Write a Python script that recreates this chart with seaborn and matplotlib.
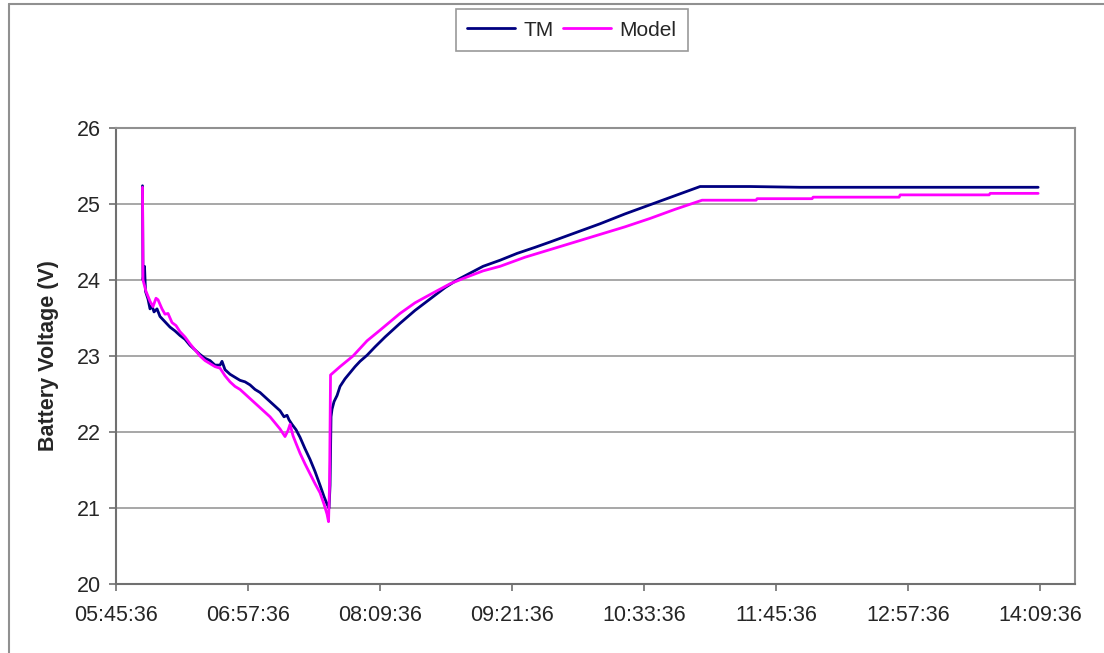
import matplotlib
matplotlib.use("Agg")
import matplotlib.pyplot as plt
from matplotlib.lines import Line2D
import pandas as pd
import seaborn as sns

# ---------------- data ----------------
tm_time = ["06:00:03", "06:00:20", "06:01:09", "06:01:42", "06:03:03", "06:04:09", "06:05:14",
           "06:06:20", "06:07:58", "06:09:36", "06:12:20", "06:15:03", "06:17:47", "06:20:30",
           "06:23:14", "06:25:58", "06:28:41", "06:31:25", "06:34:09", "06:36:52", "06:39:36",
           "06:42:20", "06:43:25", "06:45:03", "06:47:47", "06:50:30", "06:53:14", "06:55:58",
           "06:58:41", "07:01:25", "07:04:09", "07:06:52", "07:09:36", "07:12:20", "07:15:03",
           "07:17:14", "07:18:52", "07:19:58", "07:21:36", "07:23:47", "07:25:58", "07:28:41",
           "07:31:25", "07:34:09", "07:36:52", "07:39:03", "07:40:41", "07:41:47", "07:42:20",
           "07:42:52", "07:43:25", "07:44:31", "07:46:09", "07:47:47", "07:50:30", "07:53:14",
           "07:55:58", "07:58:41", "08:02:31", "08:06:52", "08:12:20", "08:20:30", "08:28:41",
           "08:38:31", "08:45:03", "08:51:36", "08:58:41", "09:05:47", "09:15:03", "09:24:20",
           "09:34:09", "09:42:20", "09:55:58", "10:09:36", "10:23:14", "10:36:52", "10:50:30",
           "11:04:09", "11:31:25", "11:58:41", "12:26:22", "12:53:14", "13:20:30", "13:47:47",
           "14:08:30"]
tm_volt = [25.24, 24.00, 24.18, 23.85, 23.75, 23.62, 23.66,
           23.58, 23.62, 23.52, 23.45, 23.38, 23.33, 23.27,
           23.22, 23.14, 23.08, 23.02, 22.97, 22.94, 22.88,
           22.88, 22.93, 22.82, 22.76, 22.72, 22.68, 22.66,
           22.62, 22.56, 22.52, 22.46, 22.40, 22.34, 22.28,
           22.20, 22.22, 22.16, 22.10, 22.03, 21.93, 21.78,
           21.64, 21.48, 21.30, 21.15, 21.05, 21.00, 21.30,
           22.20, 22.30, 22.40, 22.48, 22.60, 22.70, 22.78,
           22.86, 22.93, 23.01, 23.12, 23.25, 23.43, 23.60,
           23.78, 23.90, 24.00, 24.09, 24.18, 24.26, 24.35,
           24.43, 24.50, 24.62, 24.74, 24.87, 24.99, 25.11,
           25.23, 25.23, 25.22, 25.22, 25.22, 25.22, 25.22,
           25.22]

model_time = ["06:00:03", "06:00:20", "06:01:58", "06:04:09", "06:05:47", "06:07:25", "06:08:31",
              "06:10:41", "06:12:20", "06:13:58", "06:16:09", "06:18:20", "06:20:30", "06:23:14",
              "06:25:58", "06:28:41", "06:31:25", "06:34:09", "06:36:52", "06:39:36", "06:42:20",
              "06:45:03", "06:47:47", "06:50:30", "06:53:14", "06:55:58", "06:58:41", "07:01:25",
              "07:04:09", "07:06:52", "07:09:36", "07:12:20", "07:15:03", "07:17:47", "07:19:25",
              "07:20:31", "07:22:09", "07:23:47", "07:25:58", "07:28:41", "07:31:25", "07:34:09",
              "07:36:52", "07:39:03", "07:40:41", "07:41:31", "07:42:03", "07:42:36", "07:47:47",
              "07:54:52", "08:02:31", "08:09:36", "08:20:30", "08:28:41", "08:38:31", "08:47:47",
              "08:57:03", "09:05:47", "09:15:03", "09:28:41", "09:42:20", "09:55:58", "10:09:36",
              "10:23:14", "10:36:52", "10:50:30", "11:05:14", "11:34:41", "11:35:14", "12:05:14",
              "12:05:47", "12:52:41", "12:53:14", "13:41:47", "13:42:20", "14:08:30"]
model_volt = [25.22, 24.00, 23.85, 23.72, 23.65, 23.76, 23.74,
              23.62, 23.55, 23.56, 23.44, 23.40, 23.32, 23.25,
              23.16, 23.08, 23.00, 22.94, 22.90, 22.86, 22.84,
              22.74, 22.66, 22.60, 22.56, 22.50, 22.44, 22.38,
              22.32, 22.26, 22.20, 22.12, 22.04, 21.94, 22.02,
              22.10, 21.95, 21.85, 21.72, 21.58, 21.45, 21.32,
              21.20, 21.05, 20.92, 20.82, 21.30, 22.75, 22.86,
              23.00, 23.20, 23.34, 23.56, 23.70, 23.83, 23.95,
              24.04, 24.12, 24.18, 24.30, 24.40, 24.50, 24.60,
              24.70, 24.81, 24.93, 25.05, 25.05, 25.07, 25.07,
              25.09, 25.09, 25.12, 25.12, 25.14, 25.14]

series_names = ["TM", "Model"]
tick_labels = ["05:45:36", "06:57:36", "08:09:36", "09:21:36", "10:33:36",
               "11:45:36", "12:57:36", "14:09:36"]
y_ticks = [20, 21, 22, 23, 24, 25, 26]
y_label = "Battery Voltage (V)"

# ---------------- build frame ----------------
day = "2000-01-01 "
df = pd.concat([
    pd.DataFrame({"time": pd.to_datetime([day + t for t in tm_time]),
                  "volt": tm_volt, "series": series_names[0]}),
    pd.DataFrame({"time": pd.to_datetime([day + t for t in model_time]),
                  "volt": model_volt, "series": series_names[1]}),
], ignore_index=True)

sns.set_style("white")
plt.rcParams["font.family"] = ["Liberation Sans", "DejaVu Sans"]

fig = plt.figure(figsize=(11.04, 6.53), dpi=100)
ax = fig.add_axes([116 / 1104, 69 / 653, 959 / 1104, 456 / 653])

sns.lineplot(data=df, x="time", y="volt", hue="series", hue_order=series_names,
             palette={"TM": "#000080", "Model": "#ff00ff"}, estimator=None,
             sort=False, linewidth=2.0, ax=ax)

tick_dt = pd.to_datetime([day + t for t in tick_labels])
ax.set_xticks(tick_dt)
ax.set_xticklabels(tick_labels)
x0 = tick_dt[0]
ax.set_xlim(x0, x0 + pd.Timedelta(minutes=523))
ax.set_ylim(20, 26)
ax.set_yticks(y_ticks)
ax.set_yticklabels([str(v) for v in y_ticks])

ax.yaxis.grid(True, color="#a0a0a0", linewidth=1.3)
ax.xaxis.grid(False)
ax.set_axisbelow(True)

for side in ["top", "right"]:
    ax.spines[side].set_color("#909090")
    ax.spines[side].set_linewidth(1.5)
for side in ["left", "bottom"]:
    ax.spines[side].set_color("#707070")
    ax.spines[side].set_linewidth(1.5)

ax.tick_params(axis="both", which="major", labelsize=15.5, length=5, width=1.2,
               color="#707070", direction="out", left=True, bottom=True)
ax.tick_params(axis="y", pad=6)
ax.tick_params(axis="x", pad=10)

ax.set_xlabel("")
ax.set_ylabel(y_label, fontsize=15.5, fontweight="bold", labelpad=13)

leg = ax.legend(loc="center", bbox_to_anchor=(572 / 1104, 1 - 30 / 653),
                bbox_transform=fig.transFigure, ncol=2, frameon=True,
                fontsize=15, handlelength=2.3, handletextpad=0.4,
                columnspacing=0.45, borderpad=0.55, borderaxespad=0,
                fancybox=False)
leg.get_frame().set_edgecolor("#808080")
leg.get_frame().set_linewidth(1.2)

# chart-area border (left and top visible in the reference)
fig.add_artist(Line2D([8.5 / 1104, 8.5 / 1104], [0, 1 - 3.5 / 653],
                      transform=fig.transFigure, color="#909090", linewidth=1.5))
fig.add_artist(Line2D([8.5 / 1104, 1], [1 - 3.5 / 653, 1 - 3.5 / 653],
                      transform=fig.transFigure, color="#909090", linewidth=1.5))

fig.savefig("out.png", dpi=100)
